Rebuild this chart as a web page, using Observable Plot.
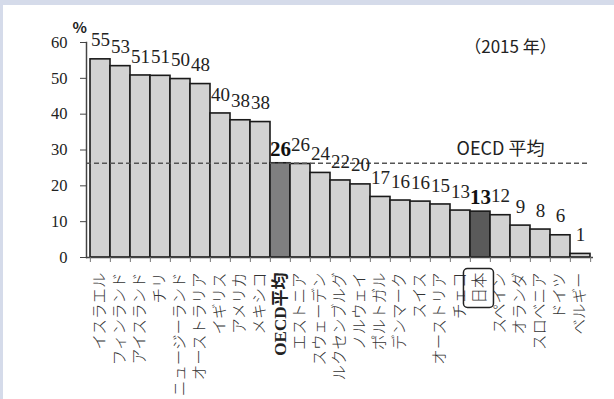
<!DOCTYPE html>
<html>
<head>
<meta charset="utf-8">
<script src="https://cdn.jsdelivr.net/npm/d3@7"></script>
<script src="https://cdn.jsdelivr.net/npm/@observablehq/plot@0.6"></script>
<style>
  html, body { margin: 0; padding: 0; background: #ffffff; }
  #wrap { width: 611px; height: 394px; border-top: 5px solid #d5dbea; border-left: 3px solid #d5dbea; background: #fff; position: relative; }
  svg { display: block; overflow: visible; }
</style>
</head>
<body>
<div id="wrap"></div>
<script>
const categories = ["イスラエル","フィンランド","アイスランド","チリ","ニュージーランド","オーストラリア","イギリス","アメリカ","メキシコ","OECD平均","エストニア","スウェーデン","ルクセンブルグ","ノルウェイ","ポルトガル","デンマーク","スイス","オーストリア","チェコ","日本","スペイン","オランダ","スロベニア","ドイツ","ベルギー"];
const values = [55.3,53.4,50.8,50.7,49.8,48.4,40.2,38.3,37.8,26.3,26.1,23.6,21.5,20.4,16.9,15.9,15.6,14.8,13.1,12.8,11.8,8.9,7.8,6.2,1.0];
const highlight = {"OECD平均": "avg", "日本": "japan"};
const yTicks = [0,10,20,30,40,50,60];
const oecdAverage = 26.3;
const yearLabel = "（2015 年）";
const avgLabel = "OECD 平均";
const unitLabel = "%";

const colors = {base: "#d2d2d2", avg: "#7f7f80", japan: "#5a5a5a"};
const data = categories.map((c, i) => ({name: c, value: values[i], kind: highlight[c] || "base"}));

const W = 611, H = 394, mL = 83, mR = 21, mT = 37, mB = 142;
const step = (W - mL - mR) / categories.length;
const serif = "'Liberation Serif', 'Times New Roman', serif";
const jp = "'Noto Sans CJK JP', sans-serif";

const plot = Plot.plot({
  width: W, height: H,
  marginLeft: mL, marginRight: mR, marginTop: mT, marginBottom: mB,
  style: {background: "#fff", overflow: "visible"},
  x: {domain: categories, padding: 0, axis: null},
  y: {domain: [0, 60], axis: null},
  marks: [
    Plot.barY(data, {x: "name", y: "value", fill: d => colors[d.kind], stroke: "#1a1a1a", strokeWidth: 1.6}),
    Plot.ruleY([oecdAverage], {stroke: "#555", strokeWidth: 1.5, strokeDasharray: "5,3", insetRight: 6}),
    Plot.ruleY([0], {stroke: "#444", strokeWidth: 1.5}),
    Plot.frame({anchor: "left", stroke: "#444", strokeWidth: 1.5}),
    Plot.axisY({ticks: yTicks, tickSize: 6, tickPadding: 13, stroke: "#444", fontFamily: serif, fontSize: 16.5, fill: "#222", label: null}),
    Plot.axisX({ticks: categories, tickSize: 5, tickFormat: () => "", dx: -step / 2, stroke: "#777", label: null}),
    Plot.axisX({ticks: [categories[categories.length - 1]], tickSize: 5, tickFormat: () => "", dx: step / 2, stroke: "#777", label: null}),
    Plot.text(data.filter(d => d.kind === "base"), {x: "name", y: "value", text: d => String(Math.round(d.value)), dy: -19, fontFamily: serif, fontSize: 19, fill: "#222"}),
    Plot.text(data.filter(d => d.kind !== "base"), {x: "name", y: "value", text: d => String(Math.round(d.value)), dy: -14, fontFamily: serif, fontWeight: "bold", fontSize: 21, fill: "#111"}),
    Plot.text(data.filter(d => d.name !== "OECD平均"), {x: "name", frameAnchor: "bottom", text: "name", rotate: -90, textAnchor: "end", lineAnchor: "middle", dy: 15, fontFamily: jp, fontWeight: 300, fontSize: 15.5, fill: "#333"}),
    Plot.text(data.filter(d => d.name === "OECD平均"), {x: "name", frameAnchor: "bottom", text: "name", rotate: -90, textAnchor: "end", lineAnchor: "middle", dy: 15, fontFamily: "'Liberation Serif', 'Noto Sans CJK JP'", fontWeight: "bold", fontSize: 17, fill: "#222"}),
    Plot.text([avgLabel], {x: () => "スペイン", y: () => oecdAverage, dy: -14, fontFamily: jp, fontSize: 18, fill: "#222"}),
    Plot.text([yearLabel], {x: () => "オランダ", y: () => 60, dx: -10, dy: 5, fontFamily: jp, fontSize: 17, fill: "#222"}),
    Plot.text([unitLabel], {frameAnchor: "top-left", dx: -14, dy: -20, fontFamily: jp, fontWeight: "bold", fontSize: 15, fill: "#222"})
  ]
});
document.getElementById("wrap").appendChild(plot);

// rounded box around the Japan label
const svgRect = plot.getBoundingClientRect();
d3.select(plot).selectAll("text").each(function() {
  if (this.textContent === "日本") {
    const r = this.getBoundingClientRect();
    d3.select(plot).append("rect")
      .attr("x", r.left - svgRect.left - 4)
      .attr("y", r.top - svgRect.top - 4)
      .attr("width", r.width + 8)
      .attr("height", r.height + 8)
      .attr("rx", 4)
      .attr("fill", "none")
      .attr("stroke", "#222")
      .attr("stroke-width", 1.5);
  }
});
</script>
</body>
</html>
